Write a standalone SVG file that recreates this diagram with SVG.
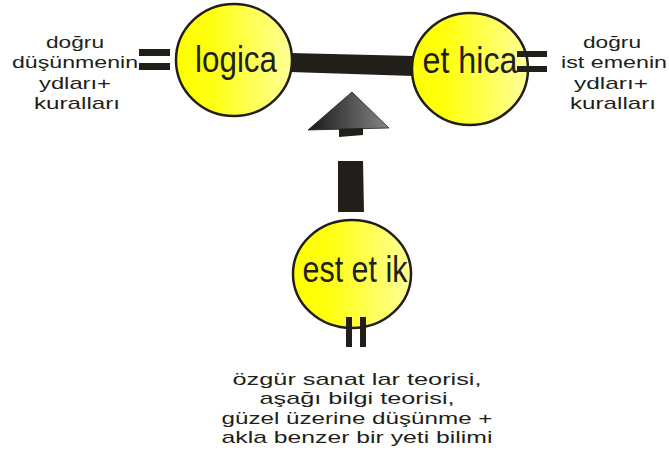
<svg xmlns="http://www.w3.org/2000/svg" width="669" height="452" viewBox="0 0 669 452">
<defs>
<linearGradient id="yg" x1="0" y1="0" x2="1" y2="0">
<stop offset="0" stop-color="#ffff00"/>
<stop offset="0.3" stop-color="#ffff10"/>
<stop offset="1" stop-color="#ffff99"/>
</linearGradient>
<linearGradient id="ag" x1="0" y1="0" x2="1" y2="0">
<stop offset="0" stop-color="#1a1918"/>
<stop offset="1" stop-color="#858585"/>
</linearGradient>
<style>
.node{fill:url(#yg);stroke:#221f1b;stroke-width:2.5}
.lab{font-family:"Liberation Sans",Arial,sans-serif;font-size:37px;fill:#221f1b;text-anchor:middle}
.txt{font-family:"Liberation Sans",Arial,sans-serif;font-size:17px;fill:#221f1b;text-anchor:middle}
.bar{fill:#221f1b}
</style>
</defs>
<rect width="669" height="452" fill="#ffffff"/>
<g id="connectors">
<polygon class="bar" points="290,53 414,56 414,76 290,72"/>
<polygon points="352,92 308,130 389,128" fill="url(#ag)" stroke="#221f1b" stroke-width="0.8"/>
<polygon class="bar" points="339,129 363,128 363,135 339,137"/>
<polygon class="bar" points="338,161 363,161 364,212 338,212"/>
</g>
<g id="logica">
<rect class="bar" x="139" y="49" width="31" height="7"/>
<rect class="bar" x="139" y="63" width="31" height="7"/>
<ellipse class="node" cx="234" cy="60" rx="58" ry="56"/>
<text class="lab" x="236" y="72" textLength="82" lengthAdjust="spacingAndGlyphs">logica</text>
</g>
<g id="ethica">
<ellipse class="node" cx="470" cy="69" rx="58" ry="56"/>
<text class="lab" x="470" y="73" textLength="95" lengthAdjust="spacingAndGlyphs">et hica</text>
<rect class="bar" x="517" y="51" width="30" height="6"/>
<rect class="bar" x="517" y="66" width="30" height="6"/>
</g>
<g id="estetik">
<ellipse class="node" cx="352" cy="274" rx="59" ry="54"/>
<text class="lab" x="355" y="282" textLength="105" lengthAdjust="spacingAndGlyphs">est et ik</text>
<rect class="bar" x="346" y="317" width="6" height="30"/>
<rect class="bar" x="360" y="317" width="6" height="30"/>
</g>
<g id="left-text">
<text class="txt" x="75" y="48" textLength="58" lengthAdjust="spacingAndGlyphs">doğru</text>
<text class="txt" x="75" y="68" textLength="126" lengthAdjust="spacingAndGlyphs">düşünmenin</text>
<text class="txt" x="75" y="89" textLength="72" lengthAdjust="spacingAndGlyphs">ydları+</text>
<text class="txt" x="77" y="109" textLength="86" lengthAdjust="spacingAndGlyphs">kuralları</text>
</g>
<g id="right-text">
<text class="txt" x="612" y="48" textLength="58" lengthAdjust="spacingAndGlyphs">doğru</text>
<text class="txt" x="614" y="68" textLength="106" lengthAdjust="spacingAndGlyphs">ist emenin</text>
<text class="txt" x="611" y="89" textLength="74" lengthAdjust="spacingAndGlyphs">ydları+</text>
<text class="txt" x="613" y="109" textLength="86" lengthAdjust="spacingAndGlyphs">kuralları</text>
</g>
<g id="bottom-text">
<text class="txt" x="357" y="385" textLength="249" lengthAdjust="spacingAndGlyphs">özgür sanat lar teorisi,</text>
<text class="txt" x="357" y="404" textLength="195" lengthAdjust="spacingAndGlyphs">aşağı bilgi teorisi,</text>
<text class="txt" x="357" y="424" textLength="271" lengthAdjust="spacingAndGlyphs">güzel üzerine düşünme +</text>
<text class="txt" x="357" y="443" textLength="271" lengthAdjust="spacingAndGlyphs">akla benzer bir yeti bilimi</text>
</g>
</svg>
